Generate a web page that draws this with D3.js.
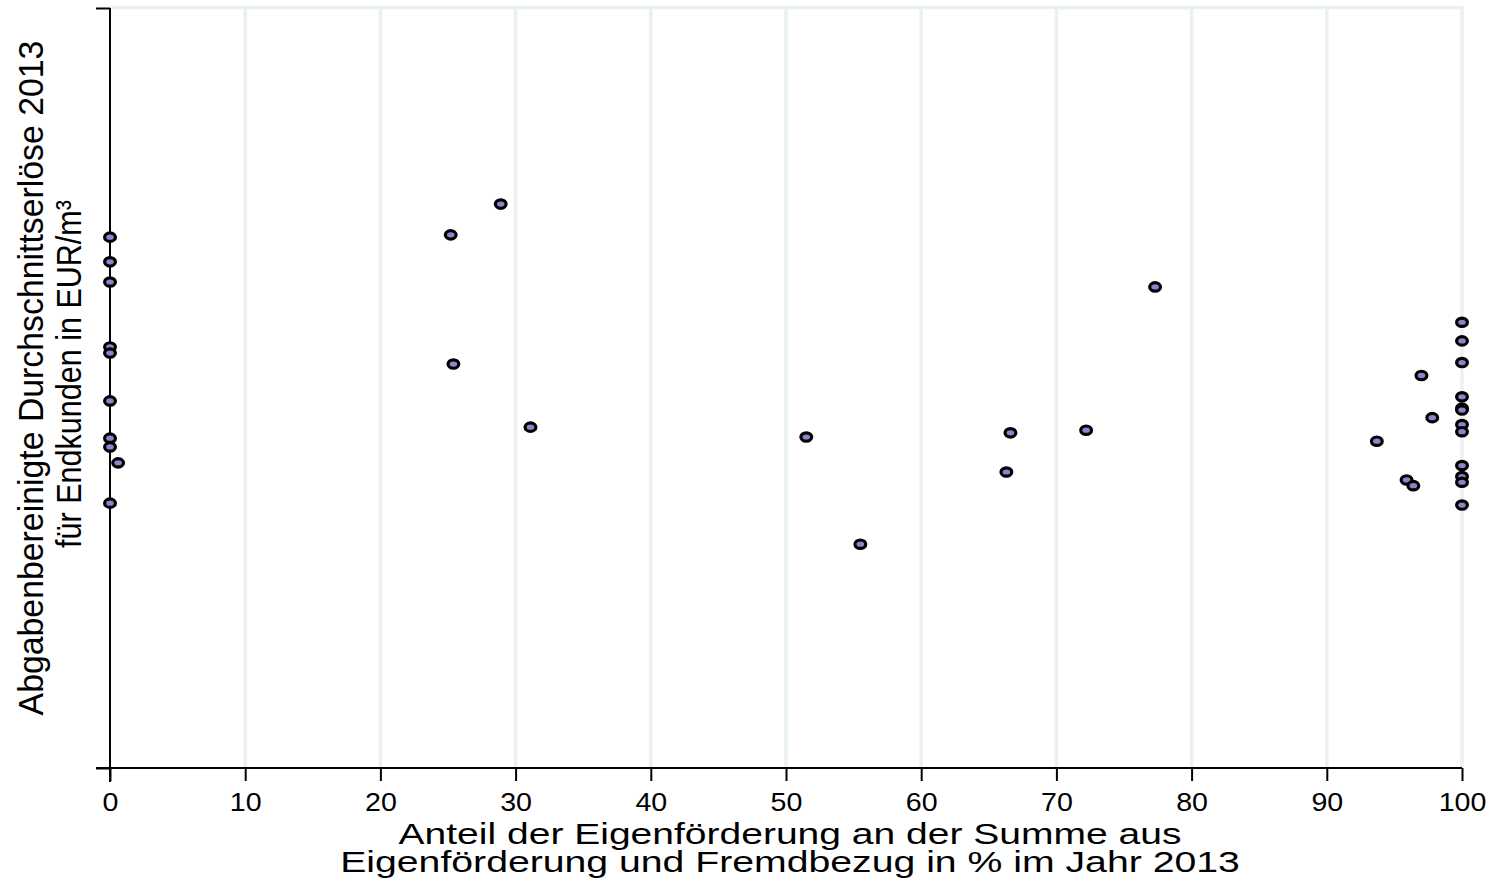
<!DOCTYPE html>
<html>
<head>
<meta charset="utf-8">
<script src="https://cdn.jsdelivr.net/npm/d3@7"></script>
<style>
  html, body { margin: 0; padding: 0; background: #fff; }
  text { font-family: "Liberation Sans", Arial, Helvetica, sans-serif; fill: #000; }
</style>
</head>
<body>
<svg id="chart" width="1497" height="887"></svg>
<script>
// Share of own production (%) and adjusted average revenue (EUR/m³), 2013
const eigenAnteil = [
  0, 0, 0, 0, 0, 0, 0, 0, 0.6, 0,
  25.2, 28.9, 25.4, 31.1,
  51.5, 55.5, 66.6, 66.3, 72.2, 77.3,
  93.7, 95.9, 96.4, 97.0, 97.8,
  100, 100, 100, 100, 100, 100, 100, 100, 100, 100, 100, 100
];
const erloese = [
  2.397, 2.332, 2.279, 2.108, 2.092, 1.966, 1.868, 1.845, 1.803, 1.697,
  2.403, 2.484, 2.063, 1.897,
  1.871, 1.589, 1.882, 1.779, 1.889, 2.266,
  1.860, 1.758, 1.743, 2.033, 1.922,
  2.173, 2.124, 2.067, 1.977, 1.947, 1.942, 1.904, 1.885, 1.796, 1.767, 1.752, 1.692
];
const xTicks = [0, 10, 20, 30, 40, 50, 60, 70, 80, 90, 100];
const yTicks = [1.0, 3.0];

const xTitle = ["Anteil der Eigenförderung an der Summe aus",
                "Eigenförderung und Fremdbezug in % im Jahr 2013"];
const yTitle = ["Abgabenbereinigte Durchschnittserlöse 2013",
                "für Endkunden in EUR/m³"];

const svg = d3.select("#chart");
const plotLeft = 110, plotRight = 1462, plotTop = 8, plotBottom = 768;

const x = d3.scaleLinear().domain([0, 100]).range([plotLeft, plotRight]);
const y = d3.scaleLinear().domain([1.0, 3.0]).range([plotBottom, plotTop]);

// light plot-region grid
const grid = svg.append("g").attr("stroke", "#eaf1f3").attr("stroke-width", 3.5);
grid.append("line")
  .attr("x1", plotLeft).attr("x2", x(100) + 1.5)
  .attr("y1", plotTop - 0.5).attr("y2", plotTop - 0.5);
grid.selectAll("line.v").data(xTicks.filter(d => d > 0)).join("line")
  .attr("class", "v")
  .attr("x1", d => x(d)).attr("x2", d => x(d))
  .attr("y1", plotTop - 0.5).attr("y2", plotBottom);

// x axis
const xAxis = svg.append("g")
  .attr("transform", `translate(0,${plotBottom})`)
  .call(d3.axisBottom(x).tickValues(xTicks).tickSize(13).tickSizeOuter(0).tickPadding(12));
xAxis.select(".domain").attr("stroke", "#000").attr("stroke-width", 2)
  .attr("d", `M${plotLeft - 14},0H${plotRight}`);
xAxis.selectAll(".tick line").attr("stroke", "#000").attr("stroke-width", 2);
xAxis.selectAll(".tick text")
  .attr("font-size", 26)
  .attr("font-family", "Liberation Sans, Arial, sans-serif")
  .attr("fill", "#000")
  .attr("transform", "scale(1.1,1)");

// y axis without labels
const yAxis = svg.append("g")
  .attr("transform", `translate(${plotLeft},0)`)
  .call(d3.axisLeft(y).tickValues(yTicks).tickSize(14).tickSizeOuter(0).tickFormat(""));
yAxis.select(".domain").attr("stroke", "#000").attr("stroke-width", 2)
  .attr("d", `M0,${plotTop}V${plotBottom + 14}`);
yAxis.selectAll(".tick line").attr("stroke", "#000").attr("stroke-width", 2);

// points
const pts = eigenAnteil.map((v, i) => ({ x: v, y: erloese[i] }));
svg.append("g").selectAll("ellipse").data(pts).join("ellipse")
  .attr("cx", d => x(d.x))
  .attr("cy", d => y(d.y))
  .attr("rx", 5.4)
  .attr("ry", 4.2)
  .attr("fill", "#8c84cc")
  .attr("stroke", "#000")
  .attr("stroke-width", 3.2);

// stretch a text horizontally (in its own frame) to a given width
function fitWidth(sel, width, tx, ty, extra) {
  const w = sel.node().getComputedTextLength();
  sel.attr("transform", `${extra || ""} translate(${tx},${ty}) scale(${width / w},1)`);
}

// x axis title
const xt1 = svg.append("text").attr("text-anchor", "middle").attr("font-size", 30).text(xTitle[0]);
fitWidth(xt1, 783, 790, 844);
const xt2 = svg.append("text").attr("text-anchor", "middle").attr("font-size", 30).text(xTitle[1]);
fitWidth(xt2, 900, 790, 872);

// y axis title (rotated; stretch along the text direction)
const yt1 = svg.append("text").attr("text-anchor", "middle").attr("font-size", 35).text(yTitle[0]);
fitWidth(yt1, 675, 0, 0, "translate(43,378) rotate(-90)");
const yt2 = svg.append("text").attr("text-anchor", "middle").attr("font-size", 35).text(yTitle[1]);
fitWidth(yt2, 348, 0, 38, "translate(43,374) rotate(-90)");
</script>
</body>
</html>
